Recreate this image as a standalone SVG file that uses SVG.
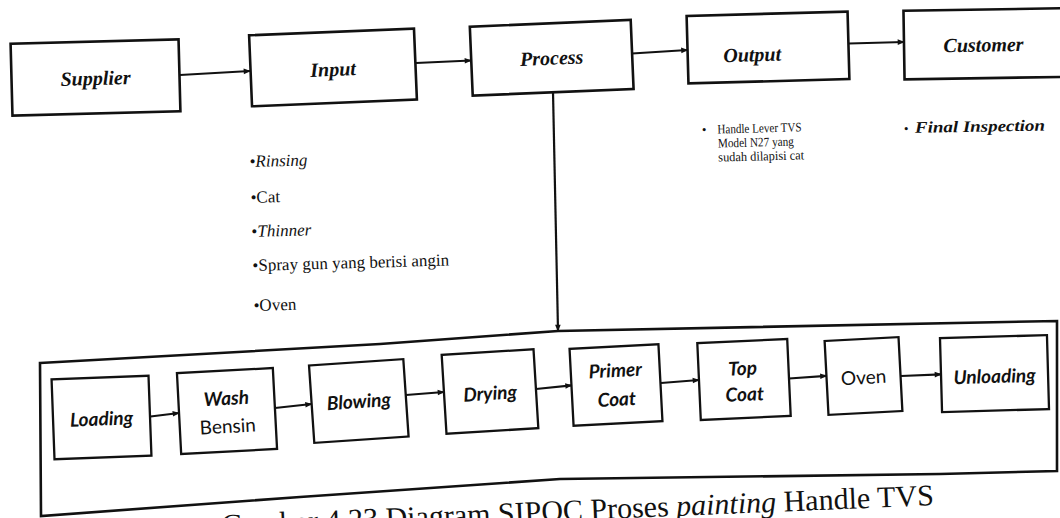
<svg xmlns="http://www.w3.org/2000/svg" width="1060" height="518" viewBox="0 0 1060 518">
<style>
.box{fill:#fff;stroke:#111;stroke-width:2.6}
.sbox{fill:#fff;stroke:#111;stroke-width:2.3}
.top{font-family:"Liberation Serif",serif;font-weight:bold;font-style:italic;font-size:20px;fill:#111;text-anchor:middle}
.lbl{font-family:Lato,"Liberation Sans",sans-serif;font-weight:700;font-style:italic;font-size:19px;fill:#111;text-anchor:middle}
.up{font-family:Lato,"Liberation Sans",sans-serif;font-weight:400;font-size:19px;fill:#111;text-anchor:middle}
.list{font-family:"Liberation Serif",serif;font-size:17px;fill:#111}
.small{font-family:"Liberation Serif",serif;font-size:13px;fill:#111}
.fin{font-family:"Liberation Serif",serif;font-weight:bold;font-style:italic;font-size:16px;fill:#111}
.cap{font-family:"Liberation Serif",serif;font-size:30px;fill:#111}
.it{font-style:italic}
.con{fill:none;stroke:#111;stroke-width:2.2}
</style>
<defs>
<marker id="ah" viewBox="0 0 10 10" refX="9" refY="5" markerWidth="8" markerHeight="7" markerUnits="userSpaceOnUse" orient="auto">
<path d="M0,1 L10,5 L0,9 Z" fill="#111"/>
</marker>
</defs>
<rect x="0" y="0" width="1060" height="518" fill="#fff"/>

<g id="container">
<path class="box" d="M40,363 L380,344 L558,331 L1057,321 L1057,471 L940,474 L560,479 L300,497 L41,516 Z"/>
</g>

<g id="n-supplier" transform="rotate(-1.5 95.5 77.5)">
<rect class="box" x="11.5" y="41.5" width="168" height="72"/>
<text class="top" x="95.5" y="85">Supplier</text>
</g>
<g id="n-input" transform="rotate(-2.36 333 67.4)">
<rect class="box" x="250.5" y="31.9" width="165" height="71"/>
<text class="top" x="333" y="76">Input</text>
</g>
<g id="n-process" transform="rotate(-2.4 551.7 57.8)">
<rect class="box" x="471.2" y="23.3" width="161" height="69"/>
<text class="top" x="551.7" y="64.8">Process</text>
</g>
<g id="n-output" transform="rotate(-1.57 768 47.5)">
<rect class="box" x="687.5" y="13.75" width="161" height="67.5"/>
<text class="top" x="752" y="61">Output</text>
</g>
<g id="n-customer" transform="rotate(-0.9 985 43.8)">
<rect class="box" x="904" y="9.5" width="162" height="68.6"/>
<text class="top" x="983.5" y="51.5">Customer</text>
</g>

<g id="input-list" transform="rotate(-1.6 252 240)">
<text class="list" x="251.7" y="167">•<tspan class="it">Rinsing</tspan></text>
<text class="list" x="251.7" y="203">•Cat</text>
<text class="list" x="251.7" y="237">•<tspan class="it">Thinner</tspan></text>
<text class="list" x="251.7" y="271">•Spray gun yang berisi angin</text>
<text class="list" x="251.7" y="311">•Oven</text>
</g>

<g id="output-list" transform="rotate(-1.5 702 134)">
<text class="small" x="702" y="134">•</text>
<text class="small" x="717.6" y="134" textLength="84" lengthAdjust="spacingAndGlyphs">Handle Lever TVS</text>
<text class="small" x="717.6" y="148" textLength="76" lengthAdjust="spacingAndGlyphs">Model N27 yang</text>
<text class="small" x="717.6" y="162" textLength="86" lengthAdjust="spacingAndGlyphs">sudah dilapisi cat</text>
</g>

<g id="customer-list" transform="rotate(-1 905 133)">
<text class="small" x="904" y="133">•</text>
<text class="fin" x="915" y="133" textLength="130" lengthAdjust="spacingAndGlyphs">Final Inspection</text>
</g>

<g id="n-loading" transform="rotate(-2.1 101.5 417.5)">
<rect class="sbox" x="53" y="377.5" width="97" height="80"/>
<text class="lbl" x="101.5" y="425.5">Loading</text>
</g>
<g id="n-wash" transform="rotate(-3 227 411)">
<rect class="sbox" x="179" y="370.5" width="96" height="81"/>
<text class="lbl" x="227" y="405">Wash</text>
<text class="up" x="227" y="433">Bensin</text>
</g>
<g id="n-blowing" transform="rotate(-3.9 358.8 401)">
<rect class="sbox" x="311.55" y="362.25" width="94.5" height="77.5"/>
<text class="lbl" x="358.8" y="408">Blowing</text>
</g>
<g id="n-drying" transform="rotate(-3.5 490 391.5)">
<rect class="sbox" x="444" y="352" width="92" height="79"/>
<text class="lbl" x="490" y="400">Drying</text>
</g>
<g id="n-primer" transform="rotate(-3 616 385)">
<rect class="sbox" x="571.5" y="346.5" width="89" height="77"/>
<text class="lbl" x="616" y="377">Primer</text>
<text class="lbl" x="616" y="406">Coat</text>
</g>
<g id="n-topcoat" transform="rotate(-2.6 744 379.5)">
<rect class="sbox" x="699" y="341" width="90" height="77"/>
<text class="lbl" x="743" y="375">Top</text>
<text class="lbl" x="744" y="401">Coat</text>
</g>
<g id="n-oven" transform="rotate(-3 863.5 376)">
<rect class="sbox" x="826.5" y="339" width="74" height="74"/>
<text class="up" x="863.5" y="384">Oven</text>
</g>
<g id="n-unloading" transform="rotate(-1.6 994.5 373.6)">
<rect class="sbox" x="941" y="336.6" width="107" height="74"/>
<text class="lbl" x="994.5" y="383">Unloading</text>
</g>

<g id="connectors">
<path class="con" marker-end="url(#ah)" d="M180,75 L250,71"/>
<path class="con" marker-end="url(#ah)" d="M416,63 L471,60.5"/>
<path class="con" marker-end="url(#ah)" d="M632,53.5 L687.5,50"/>
<path class="con" marker-end="url(#ah)" d="M849,43.5 L904,42"/>
<path class="con" marker-end="url(#ah)" d="M553,92 L558,331"/>
<path class="con" marker-end="url(#ah)" d="M150.5,416.5 L179,413"/>
<path class="con" marker-end="url(#ah)" d="M275,408 L311.6,404"/>
<path class="con" marker-end="url(#ah)" d="M406,395 L444,392"/>
<path class="con" marker-end="url(#ah)" d="M536,389 L571.6,385.4"/>
<path class="con" marker-end="url(#ah)" d="M661,383 L699,380"/>
<path class="con" marker-end="url(#ah)" d="M789,378.5 L826.5,375.8"/>
<path class="con" marker-end="url(#ah)" d="M901,376 L941,374.4"/>
</g>

<text class="cap" x="222" y="535" transform="rotate(-2.4 222 535)">Gambar 4.23 Diagram SIPOC Proses <tspan class="it">painting</tspan> Handle TVS</text>
</svg>
